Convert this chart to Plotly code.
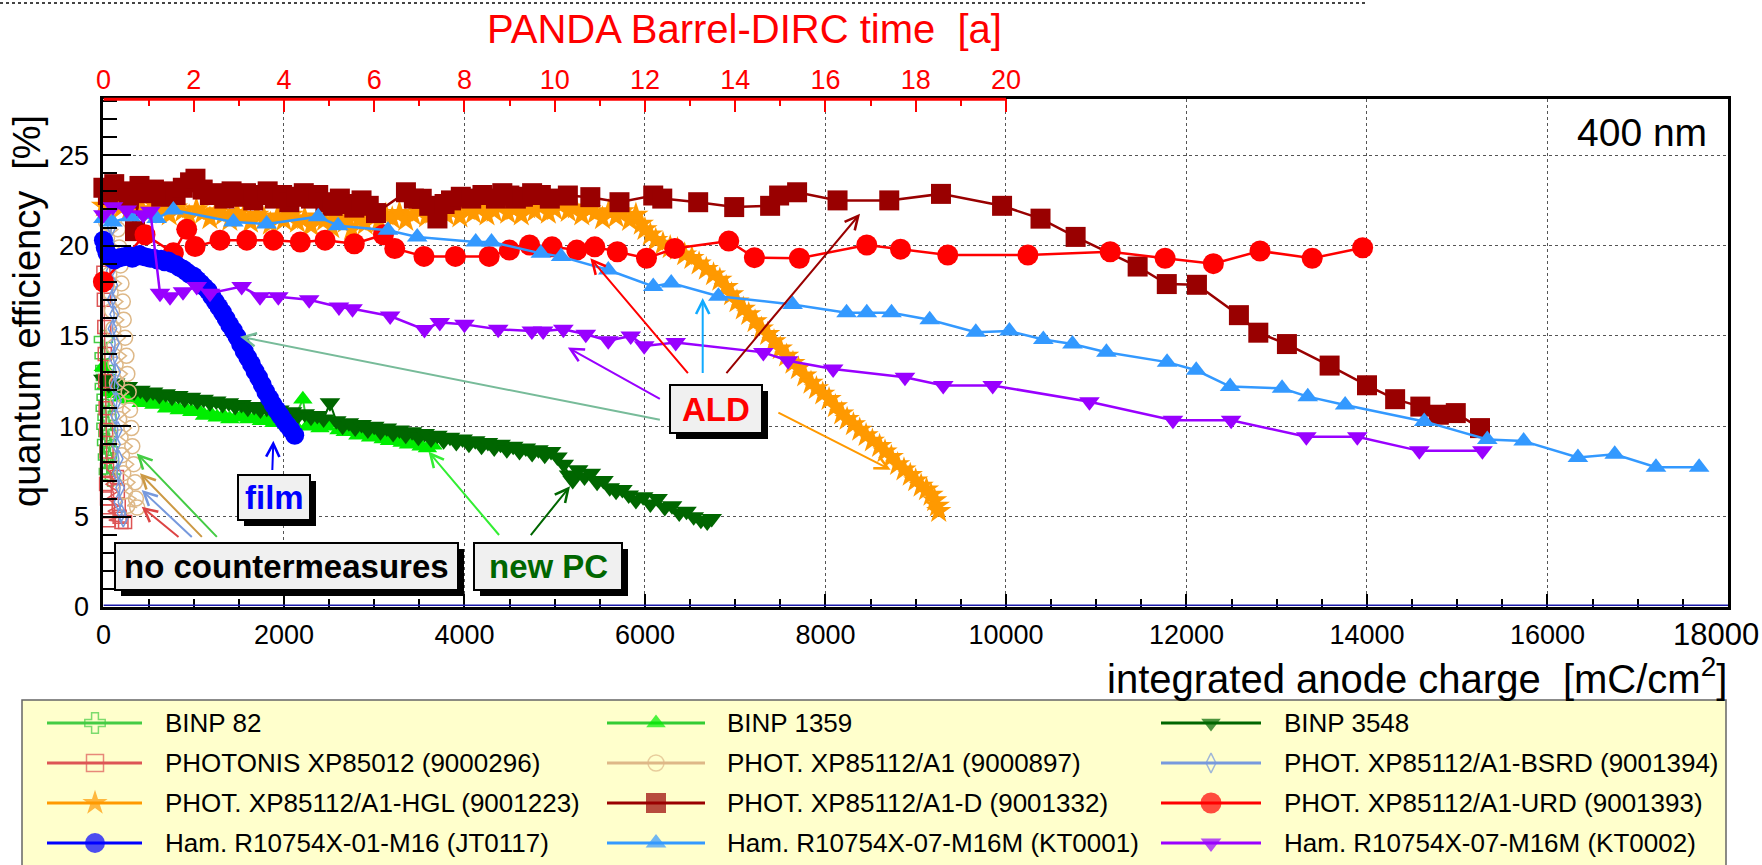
import plotly.graph_objects as go

W, H = 1762, 865
FONT = "Liberation Sans, Arial, Helvetica, sans-serif"

# ---------------- data ----------------
binp82_x = [0, 8, 15, 22, 10, 30, 20, 40, 28, 50, 35, 60, 45, 70, 55, 80]
binp82_y = [14.8, 13.9, 13.2, 12.7, 12.2, 11.6, 11.0, 10.5, 10.0, 9.6, 9.1, 8.7, 8.3, 7.9, 7.5, 7.2]

binp1359_x = [0, 30, 70, 140, 210, 280, 350, 420, 490, 560, 630, 700, 770, 840, 910, 980, 1050, 1120,
              1190, 1260, 1330, 1400, 1470, 1540, 1610, 1680, 1750, 1820, 1890, 1960, 2030, 2100, 2210,
              2260, 2330, 2400, 2470, 2550, 2610, 2680, 2750, 2820, 2890, 2960, 3030, 3100, 3170, 3240,
              3310, 3380, 3450, 3520, 3590, 3650]
binp1359_y = [13.3, 12.3, 11.9, 11.8, 11.6, 11.5, 11.6, 11.3, 11.4, 11.2, 11.3, 11.0, 11.1, 10.9, 11.0,
              10.8, 10.9, 10.6, 10.7, 10.5, 10.6, 10.4, 10.5, 10.6, 10.4, 10.5, 10.3, 10.4, 10.2, 10.3,
              10.1, 10.2, 11.5, 10.0, 10.1, 9.9, 10.0, 10.2, 9.8, 9.7, 9.8, 9.5, 9.6, 9.4, 9.5, 9.3, 9.2,
              9.3, 9.1, 9.0, 9.1, 8.9, 8.8, 8.95]

binp3548_x = [0, 60, 130, 200, 270, 340, 410, 480, 550, 620, 690, 760, 830, 900, 970, 1040, 1110, 1180,
              1250, 1320, 1390, 1460, 1530, 1600, 1670, 1740, 1810, 1880, 1950, 2020, 2090, 2160, 2230,
              2300, 2370, 2440, 2510, 2580, 2650, 2720, 2790, 2860, 2930, 3000, 3070, 3140, 3210, 3280,
              3350, 3420, 3490, 3560, 3630, 3700, 3770, 3840, 3910, 3980, 4050, 4120, 4190, 4260, 4330,
              4400, 4470, 4540, 4610, 4680, 4750, 4820, 4890, 4960, 5030, 5100, 5160, 5200, 5260, 5330,
              5400, 5470, 5540, 5610, 5680, 5750, 5820, 5900, 5980, 6060, 6140, 6220, 6300, 6380, 6460,
              6540, 6620, 6690, 6740]
binp3548_y = [12.6, 12.3, 12.4, 12.1, 12.2, 11.9, 12.0, 11.8, 11.9, 11.7, 11.8, 11.6, 11.7, 11.5, 11.6,
              11.4, 11.5, 11.3, 11.4, 11.2, 11.3, 11.1, 11.2, 11.0, 11.1, 10.9, 11.0, 10.8, 10.9, 10.7,
              10.8, 10.6, 10.7, 10.5, 10.6, 10.4, 11.3, 10.3, 10.0, 10.2, 9.9, 10.1, 9.8, 10.0, 9.7, 9.9,
              9.6, 9.8, 9.5, 9.7, 9.4, 9.6, 9.3, 9.5, 9.2, 9.4, 9.1, 9.3, 9.0, 9.2, 8.9, 9.1, 8.8, 9.0,
              8.7, 8.9, 8.6, 8.8, 8.5, 8.7, 8.4, 8.6, 8.3, 7.9, 7.3, 7.0, 7.6, 7.2, 7.4, 6.9, 7.0, 6.6,
              6.4, 6.5, 6.2, 5.9, 6.1, 5.7, 6.0, 5.5, 5.6, 5.2, 5.3, 5.0, 4.8, 4.7, 4.9]

photonis296_x = [0, 5, 10, 15, 20, 25, 30, 35, 40, 150, 30, 160, 40, 170, 50, 180, 60, 200, 240]
photonis296_y = [18.5, 17.0, 15.5, 14.0, 12.5, 11.0, 9.8, 8.6, 7.6, 7.2, 6.8, 6.4, 6.0, 5.6, 5.3, 5.0,
                 4.8, 4.7, 4.7]

a1_897_x = [30, 160, 40, 175, 55, 190, 65, 200, 80, 215, 95, 225, 110, 240, 120, 255, 135, 265, 150,
            280, 160, 295, 175, 310, 190, 320, 205, 335, 220, 350, 240, 360, 265, 375]
a1_897_y = [21.3, 20.9, 20.4, 19.9, 19.4, 18.9, 18.4, 17.9, 17.4, 16.9, 16.4, 15.9, 15.4, 14.9, 14.4,
            13.9, 13.4, 12.9, 12.4, 11.9, 11.4, 10.9, 10.4, 9.9, 9.4, 8.9, 8.4, 7.9, 7.4, 6.9, 6.4, 6.0,
            5.6, 5.5]

bsrd_x = [60, 90, 70, 100, 80, 110, 90, 120, 100, 130, 110, 140, 120, 150, 130, 160, 140, 170, 150, 185,
          165, 200, 220]
bsrd_y = [21.8, 21.0, 20.2, 19.4, 18.6, 17.8, 17.0, 16.2, 15.4, 14.6, 13.8, 13.0, 12.2, 11.4, 10.6, 9.8,
          9.0, 8.2, 7.4, 6.6, 5.8, 5.2, 4.9]

hgl_x = [0, 60, 120, 200, 280, 350, 430, 500, 580, 650, 730, 800, 880, 950, 1030, 1100, 1180, 1250, 1330,
         1400, 1480, 1550, 1630, 1700, 1780, 1850, 1930, 2000, 2080, 2150, 2230, 2300, 2380, 2450, 2530,
         2600, 2680, 2750, 2830, 2900, 2980, 3050, 3130, 3200, 3280, 3350, 3430, 3500, 3580, 3650, 3730,
         3800, 3880, 3950, 4030, 4100, 4180, 4250, 4330, 4400, 4480, 4550, 4630, 4700, 4780, 4850, 4930,
         5000, 5080, 5150, 5230, 5300, 5380, 5450, 5530, 5600, 5680, 5750, 5830, 5900, 5960, 6000, 6060,
         6120, 6200, 6280, 6360, 6440, 6520, 6600, 6680, 6760, 6830, 6900, 6960, 7020, 7090, 7150, 7220,
         7290, 7360, 7430, 7500, 7570, 7640, 7700, 7770, 7840, 7900, 7970, 8040, 8110, 8180, 8240, 8310,
         8380, 8450, 8520, 8600, 8660, 8730, 8800, 8870, 8940, 9000, 9060, 9120, 9170, 9210, 9240, 9255]
hgl_y = [22.2, 22.0, 22.4, 22.1, 21.9, 22.3, 22.0, 21.8, 22.2, 22.0, 21.7, 22.1, 21.9, 21.6, 22.0, 21.8,
         21.5, 21.9, 21.7, 21.4, 21.8, 21.6, 21.3, 21.7, 21.5, 21.2, 21.6, 21.4, 21.7, 21.3, 21.5, 21.1,
         21.6, 21.4, 21.0, 21.5, 21.3, 20.9, 21.4, 21.2, 21.6, 21.3, 21.7, 21.5, 21.8, 21.4, 21.7, 21.9,
         21.6, 21.8, 22.0, 21.7, 21.9, 21.6, 22.0, 21.8, 22.1, 21.7, 21.9, 22.2, 21.8, 22.0, 21.7, 22.1,
         21.9, 22.2, 21.8, 22.0, 22.3, 21.9, 22.1, 21.7, 22.0, 21.8, 21.5, 21.9, 21.6, 21.9, 21.4, 21.7,
         21.2, 20.9, 20.6, 20.3, 20.1, 19.9, 19.8, 19.5, 19.3, 19.0, 18.7, 18.4, 18.1, 17.7, 17.3, 16.9,
         16.5, 16.2, 15.8, 15.4, 15.1, 14.7, 14.3, 13.9, 13.5, 13.2, 12.8, 12.4, 12.1, 11.8, 11.5, 11.1,
         10.7, 10.4, 10.1, 9.8, 9.5, 9.2, 8.9, 8.6, 8.3, 7.9, 7.6, 7.3, 7.0, 6.7, 6.5, 6.2, 5.9, 5.6, 5.3]

d1332_x = [0, 50, 120, 200, 280, 350, 400, 480, 560, 640, 720, 800, 880, 960, 1020, 1100, 1180, 1260,
           1340, 1420, 1500, 1580, 1660, 1740, 1820, 1900, 1980, 2060, 2140, 2220, 2300, 2380, 2460, 2540,
           2620, 2700, 2780, 2860, 2940, 3020, 3352, 3440, 3527, 3610, 3701, 3780, 3851, 3960, 4075, 4200,
           4349, 4420, 4498, 4570, 4648, 4750, 4847, 4946, 5146, 5395, 5718, 6092, 6192, 6590, 6989, 7387,
           7487, 7686, 8134, 8707, 9280, 9957, 10383, 10772, 11459, 11782, 12116, 12581, 12796, 13113,
           13586, 14000, 14312, 14591, 14796, 14984, 15252]
d1332_y = [23.2, 22.8, 23.4, 23.0, 22.6, 20.8, 23.3, 22.9, 23.1, 22.7, 23.0, 22.8, 23.2, 23.5, 23.7,
           23.1, 22.8, 22.9, 22.6, 23.0, 22.7, 22.9, 22.5, 22.8, 23.0, 22.6, 22.8, 22.4, 22.7, 22.9, 22.6,
           22.8, 22.4, 22.2, 22.6, 22.3, 22.1, 22.5, 22.2, 21.8, 22.95, 22.6, 22.59, 22.2, 21.5, 22.3, 22.5,
           22.7, 22.6, 22.8, 22.6, 22.9, 22.77, 22.6, 22.7, 22.9, 22.8, 22.6, 22.77, 22.68, 22.4, 22.77,
           22.6, 22.4, 22.13, 22.2, 22.77, 22.95, 22.5, 22.5, 22.86, 22.2, 21.49, 20.48, 18.84, 17.87, 17.83,
           16.15, 15.18, 14.55, 13.36, 12.27, 11.5, 11.09, 10.64, 10.73, 9.9]

urd_x = [0, 461, 775, 923, 1016, 1292, 1588, 1883, 2182, 2456, 2780, 3103, 3228, 3552, 3900, 4274, 4498,
         4722, 4971, 5245, 5444, 5694, 6017, 6331, 6929, 7213, 7711, 8458, 8832, 9355, 10243, 11155,
         11763, 12298, 12815, 13393, 13952]
urd_y = [18.0, 20.6, 19.6, 20.9, 19.95, 20.3, 20.3, 20.3, 20.2, 20.3, 20.1, 20.6, 19.84, 19.4, 19.4,
         19.4, 19.75, 20.03, 19.93, 19.75, 19.93, 19.66, 19.3, 19.84, 20.25, 19.33, 19.3, 20.03, 19.8,
         19.48, 19.48, 19.66, 19.3, 19.0, 19.7, 19.3, 19.88]

jt0117_x = [0, 20, 40, 60, 90, 120, 160, 200, 240, 280, 320, 360, 400, 440, 480, 520, 560, 600, 640, 680,
            720, 760, 800, 840, 880, 920, 960, 1000, 1040, 1080, 1120, 1160, 1200, 1240, 1280, 1320, 1360,
            1400, 1440, 1480, 1520, 1560, 1600, 1640, 1680, 1720, 1760, 1800, 1840, 1880, 1920, 1960,
            2000, 2040, 2080, 2120]
jt0117_y = [20.3, 19.9, 19.6, 19.4, 19.3, 19.2, 19.3, 19.35, 19.4, 19.45, 19.3, 19.4, 19.5, 19.4, 19.35,
            19.3, 19.3, 19.2, 19.25, 19.1, 19.15, 19.0, 18.95, 18.8, 18.7, 18.55, 18.4, 18.3, 18.1, 17.9,
            17.7, 17.5, 17.2, 16.9, 16.6, 16.3, 15.95, 15.6, 15.3, 14.95, 14.55, 14.15, 13.8, 13.45, 13.05,
            12.7, 12.3, 11.9, 11.55, 11.2, 10.9, 10.6, 10.3, 10.05, 9.8, 9.5]

kt0001_x = [0, 100, 300, 590, 775, 1440, 1809, 2380, 2600, 3153, 3477, 4125, 4300, 4847, 5071, 5594, 6092,
            6291, 6814, 7636, 8234, 8458, 8732, 9155, 9666, 10038, 10414, 10737, 11113, 11785, 12108,
            12484, 13059, 13344, 13758, 14634, 15333, 15736, 16337, 16745, 17202, 17680]
kt0001_y = [21.5, 21.3, 21.6, 21.5, 21.97, 21.3, 21.2, 21.6, 21.1, 20.85, 20.48, 20.2, 20.2, 19.57, 19.39,
            18.65, 17.74, 17.93, 17.2, 16.74, 16.28, 16.28, 16.28, 15.9, 15.2, 15.27, 14.8, 14.55, 14.1,
            13.55, 13.1, 12.2, 12.1, 11.64, 11.18, 10.27, 9.27, 9.18, 8.27, 8.45, 7.73, 7.73]

kt0002_x = [0, 106, 258, 442, 520, 627, 738, 882, 1034, 1181, 1532, 1735, 1938, 2280, 2610, 2760, 3177,
            3557, 3727, 4000, 4374, 4747, 4872, 5096, 5345, 5594, 5843, 5992, 6341, 7312, 7586, 8085, 8881,
            9305, 9853, 10925, 11850, 12495, 13328, 13893, 14580, 15279]
kt0002_y = [21.7, 22.15, 21.97, 21.7, 21.9, 17.36, 17.17, 17.45, 17.73, 17.36, 17.73, 17.17, 17.17, 17.0,
            16.6, 16.5, 16.1, 15.35, 15.75, 15.64, 15.37, 15.27, 15.27, 15.37, 15.09, 14.73, 15.0, 14.45,
            14.63, 14.09, 13.63, 13.17, 12.71, 12.26, 12.26, 11.36, 10.33, 10.33, 9.42, 9.42, 8.64, 8.64]

series_names = ["BINP 82", "BINP 1359", "BINP 3548",
                "PHOTONIS XP85012 (9000296)", "PHOT. XP85112/A1 (9000897)", "PHOT. XP85112/A1-BSRD (9001394)",
                "PHOT. XP85112/A1-HGL (9001223)", "PHOT. XP85112/A1-D (9001332)", "PHOT. XP85112/A1-URD (9001393)",
                "Ham. R10754X-01-M16 (JT0117)", "Ham. R10754X-07-M16M (KT0001)", "Ham. R10754X-07-M16M (KT0002)"]
series_x = [binp82_x, binp1359_x, binp3548_x, photonis296_x, a1_897_x, bsrd_x,
            hgl_x, d1332_x, urd_x, jt0117_x, kt0001_x, kt0002_x]
series_y = [binp82_y, binp1359_y, binp3548_y, photonis296_y, a1_897_y, bsrd_y,
            hgl_y, d1332_y, urd_y, jt0117_y, kt0001_y, kt0002_y]

bottom_ticks = [0, 2000, 4000, 6000, 8000, 10000, 12000, 14000, 16000]
bottom_last_tick = 18000
left_ticks = [0, 5, 10, 15, 20, 25]
top_ticks = [0, 2, 4, 6, 8, 10, 12, 14, 16, 18, 20]
top_minor = [1, 3, 5, 7, 9, 11, 13, 15, 17, 19]
charge_per_year = 500.0

# ---------------- styles ----------------
STYLES = [
    dict(mc="#44cc44", lc="#44cc44", sym="cross-open", size=15, lw=1.5, lsize=17),
    dict(mc="#00ee00", lc="#33cc33", sym="triangle-up", size=17, lw=2, lsize=17),
    dict(mc="#006600", lc="#006600", sym="triangle-down", size=18, lw=2, lsize=17),
    dict(mc="#dd5555", lc="#dd5555", sym="square-open", size=13, lw=1.5, lsize=17),
    dict(mc="#deb887", lc="#deb887", sym="circle-open", size=15, lw=1.5, lsize=16),
    dict(mc="#7799dd", lc="#7799dd", sym="diamond-tall-open", size=12, lw=1.5, lsize=14),
    dict(mc="#ff9900", lc="#ff9900", sym="star", size=19, lw=2, lsize=19),
    dict(mc="#990000", lc="#990000", sym="square", size=20, lw=2.5, lsize=20),
    dict(mc="#ff0000", lc="#ff0000", sym="circle", size=21, lw=2.5, lsize=21),
    dict(mc="#0000ff", lc="#0000ff", sym="circle", size=19, lw=2.5, lsize=20),
    dict(mc="#3399ff", lc="#3399ff", sym="triangle-up", size=18, lw=2.5, lsize=18),
    dict(mc="#9900ff", lc="#9900ff", sym="triangle-down", size=18, lw=2.5, lsize=18),
]

X_LEFT, X_RIGHT = 103.4, 1728.0
Y_BOTTOM, Y_TOP = 607.0, 99.2


def pxx(v):
    return v / W


def pyy(v):
    return 1 - v / H


fig = go.Figure()

for name, xs, ys, st in zip(series_names, series_x, series_y, STYLES):
    open_sym = st["sym"].endswith("open")
    fig.add_trace(go.Scatter(
        x=xs, y=ys, name=name, mode="lines+markers",
        line=dict(color=st["lc"], width=st["lw"]),
        marker=dict(symbol=st["sym"], size=st["size"], color=st["mc"],
                    line=dict(color=st["mc"], width=1.5 if open_sym else 0)),
        cliponaxis=False, showlegend=False, xaxis="x", yaxis="y"))

# empty trace so the top (time) axis is drawn
fig.add_trace(go.Scatter(x=[], y=[], xaxis="x2", yaxis="y", showlegend=False, hoverinfo="skip"))

# ---------------- legend (drawn by hand) ----------------
LEG_ROWS = [723, 763, 803, 843]
LEG_COLS = [(47, 142, 95, 163), (607, 705, 656, 725), (1161, 1261, 1211, 1282)]
shapes = []
annotations = []

shapes.append(dict(type="rect", xref="paper", yref="paper", x0=pxx(22), x1=pxx(1726), y0=pyy(700), y1=pyy(880),
                   fillcolor="#ffffcc", line=dict(color="#666666", width=1.5), layer="below"))
leg_mx, leg_my, leg_sym, leg_col, leg_size = [], [], [], [], []
for i, (name, st) in enumerate(zip(series_names, STYLES)):
    r, c = divmod(i, 3)
    x0, x1, xm, xt = LEG_COLS[c]
    yr = LEG_ROWS[r]
    shapes.append(dict(type="line", xref="paper", yref="paper", x0=pxx(x0), x1=pxx(x1), y0=pyy(yr), y1=pyy(yr),
                       line=dict(color=st["lc"], width=3), layer="below"))
    leg_mx.append(xm)
    leg_my.append(yr)
    leg_sym.append(st["sym"])
    leg_col.append(st["mc"])
    leg_size.append(st["lsize"])
    annotations.append(dict(text=name, xref="paper", yref="paper", x=pxx(xt), y=pyy(yr), xanchor="left",
                            yanchor="middle", showarrow=False, font=dict(size=26, color="black", family=FONT)))
fig.add_trace(go.Scatter(x=leg_mx, y=leg_my, mode="markers", xaxis="x3", yaxis="y3", showlegend=False,
                         hoverinfo="skip", cliponaxis=False,
                         marker=dict(symbol=leg_sym, color=leg_col, size=leg_size,
                                     line=dict(color=leg_col, width=[1.5 if s.endswith("open") else 0 for s in leg_sym]))))

# ---------------- frame decorations ----------------
shapes.append(dict(type="line", xref="paper", yref="paper", x0=0, x1=pxx(1365), y0=pyy(3), y1=pyy(3),
                   line=dict(color="#444444", width=2, dash="dot")))
shapes.append(dict(type="line", xref="x", yref="y domain", x0=0, x1=top_ticks[-1] * charge_per_year, y0=1, y1=1,
                   line=dict(color="red", width=3), layer="above"))
shapes.append(dict(type="line", xref="x", yref="y", x0=0, x1=18000, y0=0.1, y1=0.1,
                   line=dict(color="#1a1aaa", width=1.5), layer="above"))

# last bottom tick label, kept inside the page
annotations.append(dict(text=str(bottom_last_tick), xref="paper", yref="paper", x=pxx(1761), y=pyy(634),
                        xanchor="right", yanchor="middle", showarrow=False,
                        font=dict(size=31, color="black", family=FONT)))

# ---------------- text boxes ----------------
BOXES = [
    ("no countermeasures", (115, 543, 458, 590), "#000000"),
    ("film", (238, 475, 310, 520), "#0000ff"),
    ("ALD", (670, 385, 762, 433), "#ff0000"),
    ("new PC", (474, 543, 622, 590), "#006600"),
]
SH = 6
for text, (bx0, by0, bx1, by1), col in BOXES:
    shapes.append(dict(type="rect", xref="paper", yref="paper", x0=pxx(bx0 + SH), x1=pxx(bx1 + SH),
                       y0=pyy(by0 + SH), y1=pyy(by1 + SH), fillcolor="black", line=dict(width=0), layer="above"))
    shapes.append(dict(type="rect", xref="paper", yref="paper", x0=pxx(bx0), x1=pxx(bx1), y0=pyy(by0), y1=pyy(by1),
                       fillcolor="#f0f0f0", line=dict(color="black", width=2), layer="above"))
    annotations.append(dict(text="<b>" + text + "</b>", xref="paper", yref="paper", x=pxx((bx0 + bx1) / 2),
                            y=pyy((by0 + by1) / 2), xanchor="center", yanchor="middle", showarrow=False,
                            font=dict(size=33, color=col, family=FONT)))

ARROWS = [
    (849, 3.8, 424, 5.55, "#dd4444"),
    (996, 3.8, 424, 6.47, "#7799dd"),
    (1107, 3.8, 405, 7.4, "#cc9944"),
    (1273, 3.8, 369, 8.5, "#44cc44"),
    (1871, 7.5, 1883, 9.2, "#0000ff"),
    (6182, 11.47, 5146, 14.36, "#9900ff"),
    (6182, 10.34, 1514, 14.96, "#77bb99"),
    (6490, 12.86, 5395, 19.3, "#ff0000"),
    (6640, 12.86, 6640, 17.1, "#11aaff"),
    (6889, 12.86, 8383, 21.76, "#990000"),
    (7462, 10.8, 8722, 7.6, "#ff9900"),
    (4398, 3.9, 3602, 8.6, "#33ee33"),
    (4722, 3.9, 5170, 6.68, "#006600"),
]
for tx, ty, hx, hy, col in ARROWS:
    annotations.append(dict(x=hx, y=hy, ax=tx, ay=ty, xref="x", yref="y", axref="x", ayref="y", text="",
                            showarrow=True, arrowhead=5, arrowsize=1.3, arrowwidth=2, arrowcolor=col))

# ---------------- titles ----------------
annotations.append(dict(text="integrated anode charge\u00a0 [mC/cm<sup>2</sup>]", xref="paper", yref="paper",
                        x=pxx(1729), y=pyy(676), xanchor="right", yanchor="middle", showarrow=False,
                        font=dict(size=40, color="black", family=FONT)))
annotations.append(dict(text="quantum efficiency\u00a0 [%]", xref="paper", yref="paper", x=pxx(27), y=pyy(311),
                        xanchor="center", yanchor="middle", textangle=-90, showarrow=False,
                        font=dict(size=38, color="black", family=FONT)))
annotations.append(dict(text="PANDA Barrel-DIRC time\u00a0 [a]", xref="paper", yref="paper", x=pxx(1004),
                        y=pyy(29), xanchor="right", yanchor="middle", showarrow=False,
                        font=dict(size=40, color="red", family=FONT)))
annotations.append(dict(text="400 nm", xref="paper", yref="paper", x=pxx(1709), y=pyy(132), xanchor="right",
                        yanchor="middle", showarrow=False, font=dict(size=39, color="black", family=FONT)))

fig.update_layout(
    width=W, height=H, autosize=False,
    margin=dict(l=0, r=0, t=0, b=0, pad=0),
    paper_bgcolor="white", plot_bgcolor="rgba(0,0,0,0)",
    showlegend=False, font=dict(family=FONT, color="black"),
    xaxis=dict(domain=[pxx(X_LEFT), pxx(X_RIGHT)], range=[0, 18000], anchor="y",
               tickvals=bottom_ticks, ticktext=[str(v) for v in bottom_ticks],
               ticks="inside", ticklen=13, tickwidth=1.5, tickcolor="black",
               minor=dict(dtick=500, tick0=0, ticks="inside", ticklen=8, tickwidth=1.5, tickcolor="black",
                          showgrid=False),
               showline=True, linewidth=3, linecolor="black", mirror=True,
               showgrid=True, gridcolor="#555555", griddash="dot", gridwidth=1, zeroline=False,
               tickfont=dict(size=27, color="black", family=FONT), ticklabelstandoff=2,
               ticklabeloverflow="allow", automargin=False),
    xaxis2=dict(overlaying="x", side="top", anchor="y", range=[0, 18000 / charge_per_year],
                tickvals=top_ticks, ticktext=[str(t) for t in top_ticks],
                ticks="inside", ticklen=13, tickwidth=2, tickcolor="red",
                minor=dict(tickvals=top_minor, ticks="inside", ticklen=7, tickwidth=2, tickcolor="red",
                           showgrid=False),
                showline=False, showgrid=False, zeroline=False,
                tickfont=dict(size=27, color="red", family=FONT), ticklabelstandoff=4,
                ticklabeloverflow="allow", automargin=False),
    yaxis=dict(domain=[pyy(Y_BOTTOM), pyy(Y_TOP)], range=[0, 28.1], anchor="x",
               tickvals=left_ticks, ticktext=[str(v) for v in left_ticks],
               ticks="inside", ticklen=28, tickwidth=1.5, tickcolor="black",
               minor=dict(dtick=1, tick0=0, ticks="inside", ticklen=14, tickwidth=1.5, tickcolor="black",
                          showgrid=False),
               showline=True, linewidth=3, linecolor="black", mirror=True,
               showgrid=True, gridcolor="#555555", griddash="dot", gridwidth=1, zeroline=False,
               tickfont=dict(size=27, color="black", family=FONT), ticklabelstandoff=6,
               ticklabeloverflow="allow", automargin=False),
    xaxis3=dict(domain=[0, 1], range=[0, W], anchor="y3", visible=False, fixedrange=True),
    yaxis3=dict(domain=[0, 1], range=[H, 0], anchor="x3", visible=False, fixedrange=True),
    shapes=shapes, annotations=annotations,
)

fig.write_html("out.html")
